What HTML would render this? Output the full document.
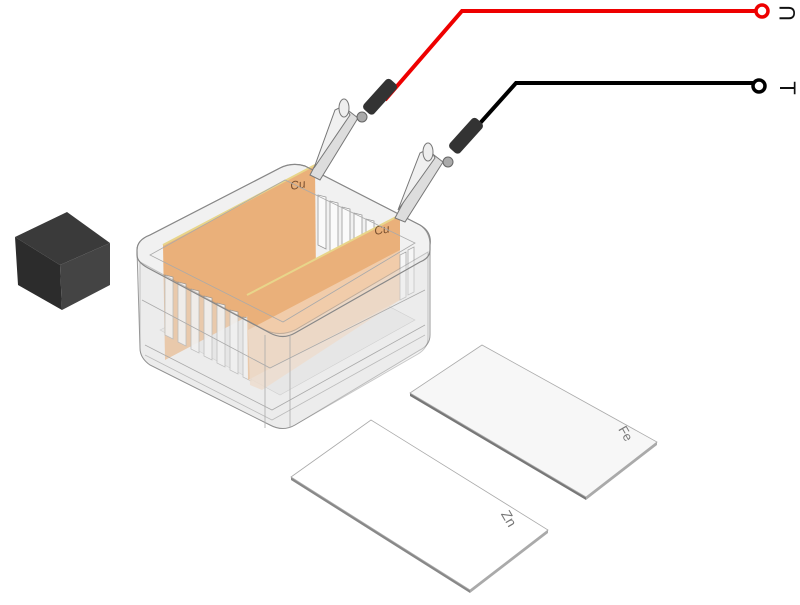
<!DOCTYPE html>
<html><head><meta charset="utf-8"><style>html,body{margin:0;padding:0;background:#fff;width:800px;height:605px;overflow:hidden}</style></head>
<body>
<svg width="800" height="605" viewBox="0 0 800 605" xmlns="http://www.w3.org/2000/svg" font-family="Liberation Sans, sans-serif">
<!-- sponge cube -->
<polygon points="15,237 67,212 110,243 60,265" fill="#3a3a3a"/>
<polygon points="15,237 60,265 62,310 18,285" fill="#2c2c2c"/>
<polygon points="60,265 110,243 110,285 62,310" fill="#444"/>

<!-- box back/inside -->
<path d="M137,250 Q137,240 150,235 L280,168 Q292,162 305,166 L420,225 Q430,232 430,245 L430,335 Q430,345 420,350 L295,425 Q283,432 270,425 L150,365 Q140,358 140,348 Z" fill="#f1f1f1" stroke="#9a9a9a" stroke-width="1"/>
<g fill="#fafafa" stroke="#999" stroke-width="0.8">
<path d="M318,195 l0,50 l8,4 l0,-52 z"/><path d="M330,201 l0,50 l8,4 l0,-52 z"/><path d="M342,207 l0,50 l8,4 l0,-52 z"/><path d="M354,213 l0,50 l8,4 l0,-52 z"/><path d="M366,219 l0,50 l8,4 l0,-52 z"/>
</g>
<polygon points="160,330 300,260 415,320 280,395" fill="#e6e6e6" stroke="#bbb" stroke-width="0.6"/>
<!-- copper plate 1 -->
<polygon points="163,245 315,165 316,280 165,360" fill="#eab07a"/>
<line x1="163" y1="245" x2="315" y2="165" stroke="#e8d58a" stroke-width="2"/>
<text x="291" y="190" font-size="12" fill="#7a5030" font-style="italic" transform="rotate(-10 291 190)">Cu</text>
<g fill="#f8f8f8" stroke="#999" stroke-width="0.8" opacity="0.9">
<path d="M165,275 l0,60 l8,4 l0,-62 z"/><path d="M178,282 l0,60 l8,4 l0,-62 z"/><path d="M191,289 l0,60 l8,4 l0,-62 z"/><path d="M204,296 l0,60 l8,4 l0,-62 z"/><path d="M217,303 l0,60 l8,4 l0,-62 z"/><path d="M230,310 l0,60 l8,4 l0,-62 z"/><path d="M243,317 l0,60 l8,4 l0,-62 z"/>
</g>
<!-- copper plate 2 -->
<polygon points="247,295 400,215 400,300 248,380" fill="#eab07a"/>
<polygon points="248,330 400,250 400,300 262,390 250,385" fill="#f2d3b6" opacity="0.8"/>
<line x1="247" y1="295" x2="400" y2="215" stroke="#e8d58a" stroke-width="2"/>
<text x="375" y="235" font-size="12" fill="#7a5030" font-style="italic" transform="rotate(-10 375 235)">Cu</text>
<g fill="#f8f8f8" stroke="#999" stroke-width="0.8" opacity="0.8"><path d="M400,255 l0,45 l6,-3 l0,-45 z"/><path d="M408,250 l0,45 l6,-3 l0,-45 z"/></g>
<!-- glass front walls -->
<path d="M140,262 L265,330 Q280,337 295,330 L428,252 L428,338 Q428,348 418,354 L295,425 Q283,432 270,425 L150,365 Q140,358 140,348 Z" fill="#e8e8e8" opacity="0.45" stroke="#888" stroke-width="1"/>
<path d="M137,250 Q137,240 150,235 L280,168 Q292,162 305,166 L420,225 Q432,232 430,245 L430,250 Q430,258 420,262 L295,333 Q283,340 270,333 L148,268 Q137,262 137,255 Z" fill="none" stroke="#888" stroke-width="1.2"/>
<path d="M150,255 L285,180 L415,243 L283,322 Z" fill="none" stroke="#aaa" stroke-width="0.8"/>
<path d="M142,300 L270,368 L425,290" fill="none" stroke="#aaa" stroke-width="0.8"/>
<path d="M145,345 L272,410 L425,325" fill="none" stroke="#aaa" stroke-width="0.8"/>
<path d="M145,355 L272,420 L425,335" fill="none" stroke="#bbb" stroke-width="0.8"/>
<line x1="265" y1="335" x2="265" y2="428" stroke="#aaa" stroke-width="0.8"/>
<line x1="290" y1="335" x2="290" y2="428" stroke="#aaa" stroke-width="0.8"/>

<!-- wires -->
<polyline points="385,100 462,11 758,11" fill="none" stroke="#ee0000" stroke-width="4"/>
<circle cx="762" cy="11" r="6" fill="#fff" stroke="#ee0000" stroke-width="3.5"/>
<text x="789" y="13" font-size="22" fill="#111" dominant-baseline="middle" text-anchor="middle" transform="rotate(-90 789 13)">U</text>
<polyline points="465,140 516,83 755,83" fill="none" stroke="#000" stroke-width="4"/>
<circle cx="759" cy="86" r="6" fill="#fff" stroke="#000" stroke-width="3.5"/>
<text x="786" y="88" font-size="22" fill="#111" dominant-baseline="middle" text-anchor="middle" transform="rotate(90 786 88)">T</text>

<!-- clips -->
<g>
<polygon points="310,175 345,108 358,118 320,180" fill="#ddd" stroke="#777" stroke-width="1"/>
<polygon points="314,168 335,110 345,105 350,115" fill="#f0f0f0" stroke="#777" stroke-width="1"/>
<ellipse cx="344" cy="108" rx="5" ry="9" fill="#eee" stroke="#777"/>
<rect x="361" y="92" width="40" height="14" rx="4" fill="#333" transform="rotate(-48 378 99)"/>
<circle cx="362" cy="117" r="5" fill="#aaa" stroke="#666"/>
</g>
<g>
<polygon points="395,218 430,152 443,162 405,222" fill="#ddd" stroke="#777" stroke-width="1"/>
<polygon points="398,210 420,153 430,148 435,158" fill="#f0f0f0" stroke="#777" stroke-width="1"/>
<ellipse cx="428" cy="152" rx="5" ry="9" fill="#eee" stroke="#777"/>
<rect x="447" y="131" width="40" height="14" rx="4" fill="#333" transform="rotate(-48 464 138)"/>
<circle cx="448" cy="162" r="5" fill="#aaa" stroke="#666"/>
</g>

<!-- Fe plate -->
<polygon points="410,393 586,497 586,500 410,396" fill="#777"/>
<polygon points="586,497 657,442 657,445 586,500" fill="#aaa"/>
<polygon points="410,393 482,345 657,442 586,497" fill="#f7f7f7" stroke="#aaa" stroke-width="0.8"/>
<text x="614" y="436" font-size="13" fill="#777" transform="rotate(60 622 436)">Fe</text>
<!-- Zn plate -->
<polygon points="291,477 470,590 470,593 291,480" fill="#888"/>
<polygon points="470,590 548,530 548,533 470,593" fill="#aaa"/>
<polygon points="291,477 371,420 548,530 470,590" fill="#fff" stroke="#aaa" stroke-width="0.8"/>
<text x="500" y="525" font-size="14" fill="#777" transform="rotate(60 510 520)">Zn</text>
</svg>
</body></html>
